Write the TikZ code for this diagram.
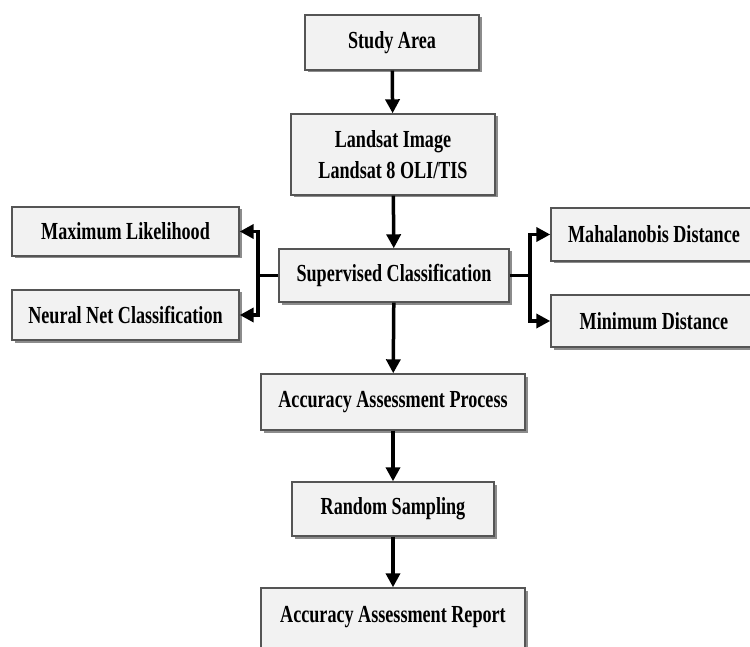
\documentclass[tikz,border=0pt]{standalone}
\usepackage{fontspec}
\newfontfamily\boxfont{Liberation Serif}[FakeStretch=0.74]
\usetikzlibrary{arrows.meta,shadows}
\definecolor{boxfill}{HTML}{F2F2F2}
\definecolor{boxline}{HTML}{555555}
\tikzset{
  flowbox/.style={draw=boxline, line width=1.4pt, fill=boxfill,
    drop shadow={shadow xshift=2.5pt, shadow yshift=-2.5pt, fill=black!45, opacity=1},
    inner sep=0pt, align=center,
    font=\boxfont\bfseries\fontsize{24.5}{31}\selectfont},
  arr/.style={line width=3.5pt, -{Triangle[width=14pt,length=14pt]}},
  bus/.style={line width=3.5pt},
}
\begin{document}
\begin{tikzpicture}[x=1pt,y=-1pt]
\useasboundingbox (0,0) rectangle (750,647);
\clip (0,0) rectangle (750,647);
\node[flowbox, minimum width=174pt, minimum height=55pt] (study) at (392,42.5) {Study Area};
\node[flowbox, minimum width=204pt, minimum height=81pt] (landsat) at (393,154.5) {Landsat Image\\Landsat 8 OLI/TIS};
\node[flowbox, minimum width=230pt, minimum height=53pt] (sup) at (394,275.5) {Supervised Classification};
\node[flowbox, minimum width=227pt, minimum height=49pt] (ml) at (125.5,231.5) {Maximum Likelihood};
\node[flowbox, minimum width=227pt, minimum height=50pt] (nn) at (125.5,315) {Neural Net Classification};
\node[flowbox, minimum width=206pt, minimum height=53pt] (mah) at (654,234.5) {Mahalanobis Distance};
\node[flowbox, minimum width=206pt, minimum height=52pt] (mind) at (654,321) {Minimum Distance};
\node[flowbox, minimum width=264pt, minimum height=56pt] (aap) at (393,402) {Accuracy Assessment Process};
\node[flowbox, minimum width=202pt, minimum height=54pt] (rs) at (393,509) {Random Sampling};
\node[flowbox, minimum width=264pt, minimum height=66pt, text depth=14pt] (aar) at (393,621) {Accuracy Assessment Report};

\coordinate (lbus) at (258,275.5);
\coordinate (rbus) at (530,275.5);

\draw[arr] (study) -- (landsat);
\draw[arr] (landsat) -- (sup);
\draw[arr] (sup) -- (aap);
\draw[arr] (aap) -- (rs);
\draw[arr] (rs) -- (aar);

\draw[bus] (sup.west) -- (lbus);
\draw[arr] (lbus) |- (ml.east);
\draw[arr] (lbus) |- (nn.east);
\draw[bus] (sup.east) -- (rbus);
\draw[arr] (rbus) |- (mah.west);
\draw[arr] (rbus) |- (mind.west);
\end{tikzpicture}
\end{document}
